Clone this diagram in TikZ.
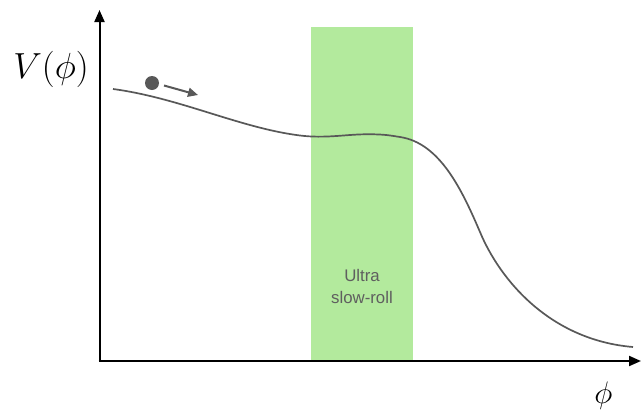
\documentclass[tikz,border=0pt]{standalone}
\usepackage{graphicx}
\usepackage{fontspec}
\setsansfont{Liberation Sans}
\usetikzlibrary{arrows.meta}
\definecolor{bandgreen}{RGB}{179,234,157}
\definecolor{curvegray}{RGB}{88,88,88}
\definecolor{labelgray}{RGB}{95,95,95}
\tikzset{
  axis/.style={line width=2pt, black, -{Triangle[length=12pt,width=10pt]}},
  potential/.style={line width=1.7pt, curvegray},
  rollarrow/.style={line width=2pt, curvegray, -{Triangle[length=10pt,width=9pt]}},
  bandtext/.style={font=\sffamily\fontsize{16.8}{22}\selectfont, text=labelgray, align=center},
  axislabel/.style={anchor=base, font=\fontsize{20}{20}\selectfont, inner sep=0pt},
}
\begin{document}
\begin{tikzpicture}[x=1pt,y=-1pt]
  \useasboundingbox (0,0) rectangle (641,413);

  % ultra slow-roll band
  \fill[bandgreen] (311,27) rectangle (413,361);
  \node[bandtext] (usr) at (362,286) {Ultra\\slow-roll};

  % axes
  \coordinate (origin) at (99.5,361);
  \coordinate (ytop) at (99.5,10);
  \coordinate (xend) at (641,361);
  \draw[axis] (origin) -- (ytop);
  \draw[axis] ([xshift=-1pt]origin) -- (xend);

  % axis labels (math fonts stop at 20pt, so scale them up)
  \node[axislabel] (vlabel) at (51,78) {\scalebox{1.75}{$V(\phi)$}};
  \node[axislabel] (philabel) at (603.5,403) {\scalebox{1.5}{$\phi$}};

  % potential with its flat ultra slow-roll plateau
  \draw[potential] (113,89)
    .. controls (180,98) and (240,128) .. (300,135.5)
    .. controls (325,138.6) and (345,134.5) .. (365,134.3)
    .. controls (385,134.1) and (390,135.5) .. (400,137)
    .. controls (440,143) and (462,190) .. (480,232)
    .. controls (500,280) and (550,340) .. (633,347);

  % rolling field
  \node[circle, fill=curvegray, minimum size=14pt, inner sep=0pt] (ball) at (152,83) {};
  \coordinate (rollstart) at (164,85.5);
  \coordinate (rollend) at (198,95);
  \draw[rollarrow] (rollstart) -- (rollend);
\end{tikzpicture}
\end{document}
